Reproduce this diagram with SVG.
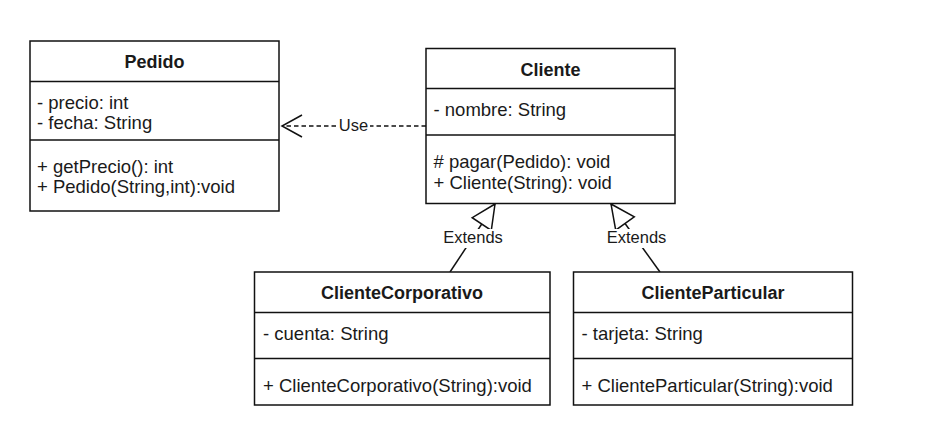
<svg xmlns="http://www.w3.org/2000/svg" width="932" height="436" viewBox="0 0 932 436">
<style>
.box{fill:#fff;stroke:#111;stroke-width:1.5}
.sep{stroke:#111;stroke-width:1.5}
.t{font-family:"Liberation Sans",Arial,sans-serif;font-size:18.5px;fill:#1a1a1a}
.h{font-weight:bold;text-anchor:middle;font-size:18px}
.lbl{font-family:"Liberation Sans",Arial,sans-serif;font-size:16.5px;fill:#1a1a1a;text-anchor:middle}
.edge{fill:none;stroke:#111;stroke-width:1.5}
.dash{stroke-dasharray:4.5 3}
.tri{fill:#fff;stroke:#111;stroke-width:1.5;stroke-linejoin:miter}
</style>
<rect width="932" height="436" fill="#fff"/>
<g id="connectors">
  <g id="use">
    <line class="edge dash" x1="426" y1="126" x2="282" y2="126"/>
    <polyline class="edge" points="302,115 282,126 302,137"/>
    <rect x="337" y="117" width="33" height="17" fill="#fff"/>
    <text class="lbl" x="353.5" y="131">Use</text>
  </g>
  <g id="extends1">
    <line class="edge" x1="495" y1="204" x2="450" y2="272"/>
    <polygon class="tri" points="495,204 472.2,217.7 491.3,230.4"/>
    <rect x="442" y="229" width="62" height="19" fill="#fff"/>
    <text class="lbl" x="473" y="243.3">Extends</text>
  </g>
  <g id="extends2">
    <line class="edge" x1="611" y1="204" x2="660" y2="272"/>
    <polygon class="tri" points="611,204 634.3,216.8 615.7,230.2"/>
    <rect x="605" y="229" width="62" height="19" fill="#fff"/>
    <text class="lbl" x="636.5" y="243.3">Extends</text>
  </g>
</g>
<g id="Pedido">
  <rect class="box" x="30" y="41" width="249" height="170"/>
  <line class="sep" x1="30" y1="81.5" x2="279" y2="81.5"/>
  <line class="sep" x1="30" y1="140" x2="279" y2="140"/>
  <text class="t h" x="154.5" y="67.5">Pedido</text>
  <text class="t" x="37" y="109">- precio: int</text>
  <text class="t" x="37" y="129">- fecha: String</text>
  <text class="t" x="37" y="172.5">+ getPrecio(): int</text>
  <text class="t" x="37" y="193">+ Pedido(String,int):void</text>
</g>
<g id="Cliente">
  <rect class="box" x="426" y="48.5" width="249" height="155"/>
  <line class="sep" x1="426" y1="88.5" x2="675" y2="88.5"/>
  <line class="sep" x1="426" y1="135" x2="675" y2="135"/>
  <text class="t h" x="550.5" y="75.5">Cliente</text>
  <text class="t" x="433.5" y="116">- nombre: String</text>
  <text class="t" x="433.5" y="168"># pagar(Pedido): void</text>
  <text class="t" x="433.5" y="189">+ Cliente(String): void</text>
</g>
<g id="ClienteCorporativo">
  <rect class="box" x="254.5" y="272" width="295.5" height="133"/>
  <line class="sep" x1="254.5" y1="312.5" x2="550" y2="312.5"/>
  <line class="sep" x1="254.5" y1="358.5" x2="550" y2="358.5"/>
  <text class="t h" x="402" y="298.5">ClienteCorporativo</text>
  <text class="t" x="263" y="340">- cuenta: String</text>
  <text class="t" x="263" y="391.5">+ ClienteCorporativo(String):void</text>
</g>
<g id="ClienteParticular">
  <rect class="box" x="573.5" y="272" width="279" height="133"/>
  <line class="sep" x1="573.5" y1="312.5" x2="852.5" y2="312.5"/>
  <line class="sep" x1="573.5" y1="358.5" x2="852.5" y2="358.5"/>
  <text class="t h" x="713" y="298.5">ClienteParticular</text>
  <text class="t" x="581.5" y="340">- tarjeta: String</text>
  <text class="t" x="581.5" y="391.5">+ ClienteParticular(String):void</text>
</g>
</svg>
